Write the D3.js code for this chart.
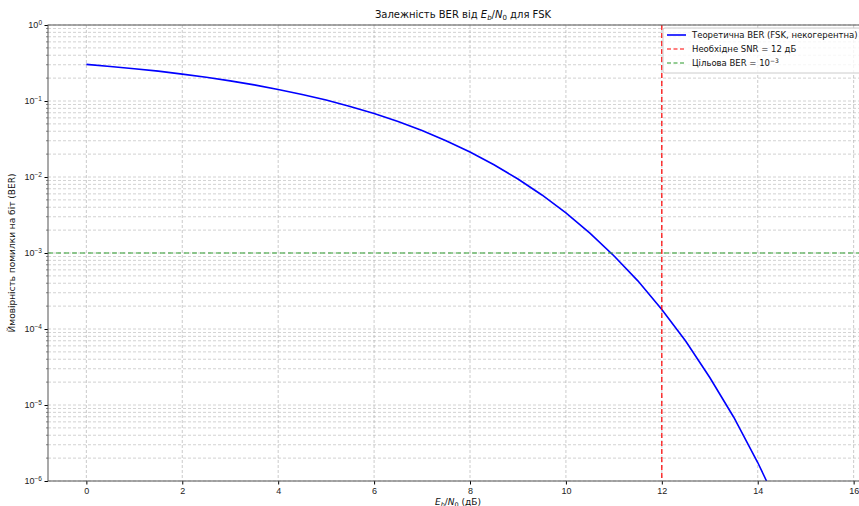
<!DOCTYPE html>
<html>
<head>
<meta charset="utf-8">
<script src="https://cdn.jsdelivr.net/npm/d3@7"></script>
<style>
  body { margin: 0; background: #fff; }
  svg { font-family: "DejaVu Sans", sans-serif; }
</style>
</head>
<body>
<div id="chart"></div>
<script>
// Дані
const snrDb = [0, 0.5, 1, 1.5, 2, 2.5, 3, 3.5, 4, 4.5, 5, 5.5, 6, 6.5, 7, 7.5, 8,
  8.5, 9, 9.5, 10, 10.5, 11, 11.5, 12, 12.5, 13, 13.5, 14, 14.5, 15, 15.5, 16];
const berValues = [0.303, 0.285, 0.266, 0.247, 0.226, 0.2055, 0.184, 0.163, 0.142,
  0.122, 0.103, 0.0848, 0.0683, 0.0536, 0.0408, 0.030, 0.0213, 0.0145, 0.0094,
  0.0058, 0.00337, 0.00183, 0.00092, 0.00043, 0.000181, 6.9e-5, 2.3e-5, 6.9e-6,
  1.75e-6, 3.8e-7, 6.8e-8, 9e-9, 9e-10];
const xTicks = [0, 2, 4, 6, 8, 10, 12, 14, 16];
const yTicks = [1e-6, 1e-5, 1e-4, 1e-3, 1e-2, 1e-1, 1];
const requiredSnr = 12;
const targetBer = 1e-3;
const legendLabels = ["Теоретична BER (FSK, некогерентна)", "Необхідне SNR = 12 дБ", "Цільова BER = "];

const W = 859, H = 506;
const margin = { top: 25, left: 48 };
const width = 844, height = 456;

const svg = d3.select("#chart").append("svg")
  .attr("width", W).attr("height", H);

const g = svg.append("g")
  .attr("transform", `translate(${margin.left},${margin.top})`);

const x = d3.scaleLinear().domain([-0.8, 16.8]).range([0, width]);
const y = d3.scaleLog().domain([1e-6, 1]).range([height, 0]);

g.append("clipPath").attr("id", "clip")
  .append("rect").attr("width", width).attr("height", height);

// Сітка (мінорні та мажорні лінії по y)
const minorY = [];
for (let e = -6; e < 0; e++) for (let k = 1; k <= 9; k++) minorY.push(k * Math.pow(10, e));
minorY.push(1);

g.append("g").selectAll("line").data(minorY).enter().append("line")
  .attr("x1", 0).attr("x2", width)
  .attr("y1", d => y(d)).attr("y2", d => y(d))
  .attr("stroke", "#b0b0b0").attr("stroke-width", 0.8)
  .attr("stroke-dasharray", "3,2").attr("opacity", 0.7);

g.append("g").selectAll("line").data(xTicks).enter().append("line")
  .attr("x1", d => x(d)).attr("x2", d => x(d))
  .attr("y1", 0).attr("y2", height)
  .attr("stroke", "#b0b0b0").attr("stroke-width", 0.8)
  .attr("stroke-dasharray", "3,2").attr("opacity", 0.8);

// Осі
const xAxis = d3.axisBottom(x).tickValues(xTicks).tickSize(3.5).tickPadding(3);
g.append("g").attr("transform", `translate(0,${height})`).call(xAxis)
  .call(a => a.select(".domain").remove())
  .selectAll("text").style("font-size", "9px").attr("fill", "#222");

const yAxisG = g.append("g");
yAxisG.call(d3.axisLeft(y).tickValues(yTicks).tickFormat("").tickSize(3.5))
  .call(a => a.select(".domain").remove());
yAxisG.selectAll(".tick").append("text")
  .attr("x", -6).attr("dy", "0.32em").attr("text-anchor", "end")
  .attr("fill", "#222").style("font-size", "9px")
  .each(function (d) {
    const t = d3.select(this);
    t.append("tspan").text("10");
    t.append("tspan").attr("dy", "-0.45em").style("font-size", "6.5px")
      .text(Math.round(Math.log10(d)) === 0 ? "0" : "\u2212" + Math.abs(Math.round(Math.log10(d))));
  });
g.append("g").selectAll("line").data(minorY.filter(d => !yTicks.includes(d)))
  .enter().append("line")
  .attr("x1", -2).attr("x2", 0).attr("y1", d => y(d)).attr("y2", d => y(d))
  .attr("stroke", "#333").attr("stroke-width", 0.6);

// Лінії
const plot = g.append("g").attr("clip-path", "url(#clip)");
const line = d3.line().x((d, i) => x(snrDb[i])).y(d => y(d));
plot.append("path").datum(berValues)
  .attr("d", line).attr("fill", "none")
  .attr("stroke", "#0000ff").attr("stroke-width", 1.6);

plot.append("line")
  .attr("x1", x(requiredSnr)).attr("x2", x(requiredSnr))
  .attr("y1", 0).attr("y2", height)
  .attr("stroke", "#ff0000").attr("stroke-width", 1.2).attr("stroke-dasharray", "5,3");

plot.append("line")
  .attr("x1", 0).attr("x2", width)
  .attr("y1", y(targetBer)).attr("y2", y(targetBer))
  .attr("stroke", "#2a9a2a").attr("stroke-width", 1.2).attr("stroke-dasharray", "5,3");

// Рамка
g.append("rect").attr("width", width).attr("height", height)
  .attr("fill", "none").attr("stroke", "#555").attr("stroke-width", 1);

// Заголовок
const title = svg.append("text").attr("x", 463).attr("y", 18)
  .attr("text-anchor", "middle").style("font-size", "10px").attr("fill", "#111");
title.append("tspan").text("Залежність BER від ");
title.append("tspan").style("font-style", "italic").text("E");
title.append("tspan").attr("dy", 2).style("font-size", "7px").style("font-style", "italic").text("b");
title.append("tspan").attr("dy", -2).text("/");
title.append("tspan").style("font-style", "italic").text("N");
title.append("tspan").attr("dy", 2).style("font-size", "7px").text("0");
title.append("tspan").attr("dy", -2).text(" для FSK");

// Підписи осей
const xl = svg.append("text").attr("x", 458).attr("y", 505)
  .attr("text-anchor", "middle").style("font-size", "9px").attr("fill", "#111");
xl.append("tspan").style("font-style", "italic").text("E");
xl.append("tspan").attr("dy", 2).style("font-size", "6.5px").style("font-style", "italic").text("b");
xl.append("tspan").attr("dy", -2).text("/");
xl.append("tspan").style("font-style", "italic").text("N");
xl.append("tspan").attr("dy", 2).style("font-size", "6.5px").text("0");
xl.append("tspan").attr("dy", -2).text(" (дБ)");

svg.append("text")
  .attr("transform", `translate(15,${margin.top + height / 2}) rotate(-90)`)
  .attr("text-anchor", "middle").style("font-size", "9px").attr("fill", "#111")
  .text("Ймовірність помилки на біт (BER)");

// Легенда
const legend = svg.append("g").attr("transform", "translate(663,28)");
legend.append("rect").attr("width", 210).attr("height", 45).attr("rx", 2)
  .attr("fill", "#fff").attr("fill-opacity", 0.8).attr("stroke", "#ccc");
const legendStyles = [
  { color: "#0000ff", dash: null, w: 1.6 },
  { color: "#ff0000", dash: "4,2.5", w: 1.2 },
  { color: "#2a9a2a", dash: "4,2.5", w: 1.2 }
];
legendLabels.forEach((lab, i) => {
  const row = legend.append("g").attr("transform", `translate(0,${7 + i * 14})`);
  row.append("line").attr("x1", 4).attr("x2", 23).attr("y1", 0).attr("y2", 0)
    .attr("stroke", legendStyles[i].color).attr("stroke-width", legendStyles[i].w)
    .attr("stroke-dasharray", legendStyles[i].dash);
  const t = row.append("text").attr("x", 29).attr("dy", "0.35em")
    .style("font-size", "8.5px").attr("fill", "#111").text(lab);
  if (i === 2) {
    t.append("tspan").text("10");
    t.append("tspan").attr("dy", "-0.5em").style("font-size", "6px").text("\u22123");
  }
});
</script>
</body>
</html>
